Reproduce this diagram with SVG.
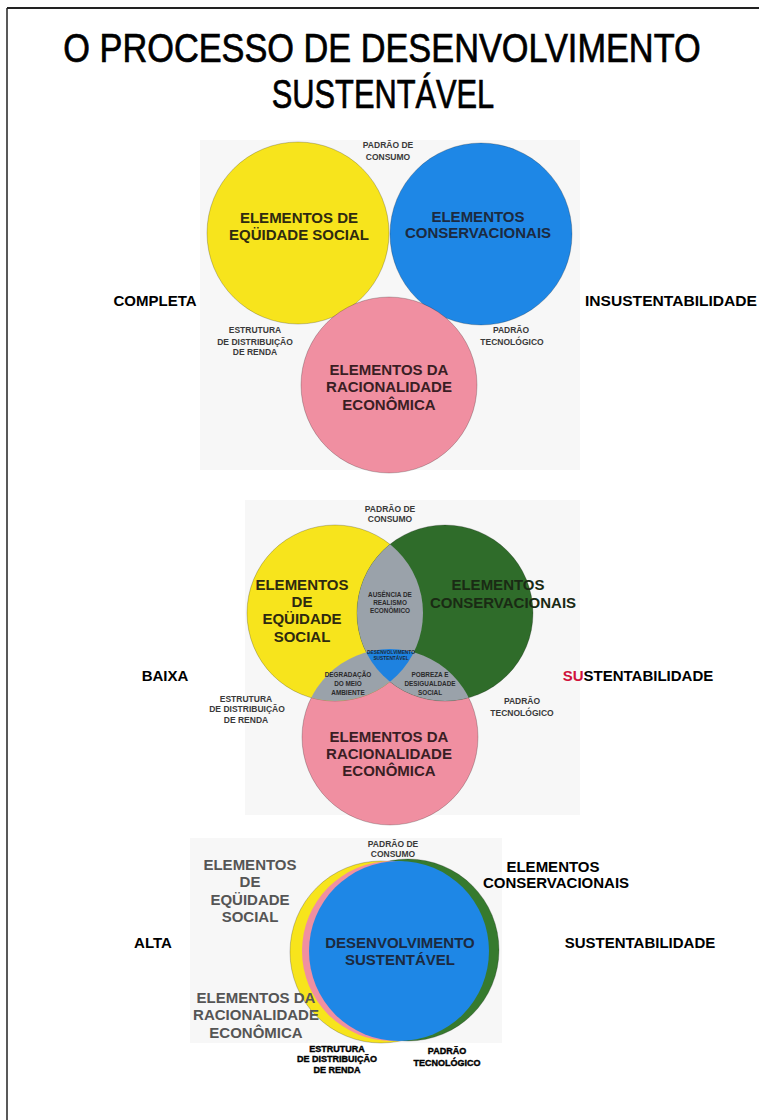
<svg xmlns="http://www.w3.org/2000/svg" width="759" height="1120" viewBox="0 0 759 1120">
  <style>
    .t { font-family: "Liberation Sans", Arial, sans-serif; font-weight: bold; text-anchor: middle; }
    .big { font-size: 15px; }
    .small { font-size: 8.5px; fill: #3a3a3a; }
    .heavy { font-size: 9px; fill: #000; stroke: #000; stroke-width: 0.4; }
    .tiny { font-size: 6.4px; fill: #2a2a2a; }
    .micro { font-size: 4.8px; fill: #1a2a3a; }
    .side { font-size: 15px; fill: #000; }
    .title { font-family: "Liberation Sans", Arial, sans-serif; font-size: 40px; fill: #000; stroke: #000; stroke-width: 0.7; text-anchor: middle; }
    .edge { stroke: rgba(0,0,0,0.28); stroke-width: 0.8; }
    .haze { fill: #f7f7f7; }
  </style>
  <defs>
    <clipPath id="cY2"><circle cx="335" cy="613" r="88"/></clipPath>
    <clipPath id="cG2"><circle cx="445" cy="613" r="88"/></clipPath>
  </defs>

  <rect width="759" height="1120" fill="#fff"/>
  <!-- page frame -->
  <line x1="7" y1="8" x2="759" y2="8" stroke="#222" stroke-width="2"/>
  <line x1="7" y1="8" x2="7" y2="1120" stroke="#222" stroke-width="1.5"/>

  <!-- title, horizontally condensed -->
  <g id="title">
    <text class="title" transform="translate(382,62) scale(0.858,1)" x="0" y="0">O PROCESSO DE DESENVOLVIMENTO</text>
    <text class="title" transform="translate(383,108) scale(0.77,1)" x="0" y="0">SUSTENTÁVEL</text>
  </g>

  <!-- soft backgrounds behind each diagram -->
  <rect class="haze" x="200" y="140" width="380" height="330"/>
  <rect class="haze" x="245" y="500" width="335" height="315"/>
  <rect class="haze" x="190" y="838" width="312" height="205"/>

  <!-- ===== Diagram 1: complete unsustainability ===== -->
  <g id="d1-yellow">
    <circle class="edge" cx="298" cy="233" r="91" fill="#f7e41c"/>
    <text class="t big" fill="#2e2a10" x="299" y="223">ELEMENTOS DE</text>
    <text class="t big" fill="#2e2a10" x="299" y="240">EQÜIDADE SOCIAL</text>
  </g>
  <g id="d1-blue">
    <circle class="edge" cx="481" cy="234" r="91" fill="#1e87e6"/>
    <text class="t big" fill="#1c2a40" x="478" y="222">ELEMENTOS</text>
    <text class="t big" fill="#1c2a40" x="478" y="238">CONSERVACIONAIS</text>
  </g>
  <g id="d1-pink">
    <circle class="edge" cx="389" cy="385" r="88" fill="#f08fa1"/>
    <text class="t big" fill="#3a1e24" x="389" y="375">ELEMENTOS DA</text>
    <text class="t big" fill="#3a1e24" x="389" y="392">RACIONALIDADE</text>
    <text class="t big" fill="#3a1e24" x="389" y="410">ECONÔMICA</text>
  </g>
  <g id="d1-labels">
    <text class="t small" x="388" y="148">PADRÃO DE</text>
    <text class="t small" x="388" y="160">CONSUMO</text>
    <text class="t small" x="255" y="333">ESTRUTURA</text>
    <text class="t small" x="255" y="345">DE DISTRIBUIÇÃO</text>
    <text class="t small" x="255" y="355">DE RENDA</text>
    <text class="t small" x="511" y="333">PADRÃO</text>
    <text class="t small" x="512" y="345">TECNOLÓGICO</text>
    <text class="t side" x="155" y="306">COMPLETA</text>
    <text class="t side" x="671" y="306" textLength="172" lengthAdjust="spacingAndGlyphs">INSUSTENTABILIDADE</text>
  </g>

  <!-- ===== Diagram 2: low sustainability ===== -->
  <g id="d2-circles">
    <circle class="edge" cx="390" cy="737" r="88" fill="#f08fa1"/>
    <circle class="edge" cx="335" cy="613" r="88" fill="#f7e41c"/>
    <circle class="edge" cx="445" cy="613" r="88" fill="#2f6c2a"/>
  </g>
  <g id="d2-overlaps">
    <circle cx="445" cy="613" r="88" fill="#9aa2aa" clip-path="url(#cY2)"/>
    <circle cx="390" cy="737" r="88" fill="#9aa2aa" clip-path="url(#cY2)"/>
    <circle cx="390" cy="737" r="88" fill="#9aa2aa" clip-path="url(#cG2)"/>
    <g clip-path="url(#cY2)">
      <circle cx="390" cy="737" r="88" fill="#1e82e0" clip-path="url(#cG2)"/>
    </g>
  </g>
  <g id="d2-yellow">
    <text class="t big" fill="#2e2a10" x="302" y="590">ELEMENTOS</text>
    <text class="t big" fill="#2e2a10" x="302" y="607">DE</text>
    <text class="t big" fill="#2e2a10" x="302" y="624">EQÜIDADE</text>
    <text class="t big" fill="#2e2a10" x="302" y="642">SOCIAL</text>
  </g>
  <g id="d2-green">
    <text class="t big" fill="#1a2a14" x="498" y="590">ELEMENTOS</text>
    <text class="t big" fill="#1a2a14" x="503" y="608">CONSERVACIONAIS</text>
  </g>
  <g id="d2-pink">
    <text class="t big" fill="#3a1e24" x="389" y="742">ELEMENTOS DA</text>
    <text class="t big" fill="#3a1e24" x="389" y="759">RACIONALIDADE</text>
    <text class="t big" fill="#3a1e24" x="389" y="776">ECONÔMICA</text>
  </g>
  <g id="d2-lens-labels">
    <text class="t tiny" x="390" y="597">AUSÊNCIA DE</text>
    <text class="t tiny" x="390" y="605">REALISMO</text>
    <text class="t tiny" x="390" y="613">ECONÔMICO</text>
    <text class="t micro" x="391" y="654">DESENVOLVIMENTO</text>
    <text class="t micro" x="391" y="660">SUSTENTÁVEL</text>
    <text class="t tiny" x="348" y="677">DEGRADAÇÃO</text>
    <text class="t tiny" x="348" y="686">DO MEIO</text>
    <text class="t tiny" x="348" y="695">AMBIENTE</text>
    <text class="t tiny" x="430" y="677">POBREZA E</text>
    <text class="t tiny" x="430" y="686">DESIGUALDADE</text>
    <text class="t tiny" x="430" y="695">SOCIAL</text>
  </g>
  <g id="d2-labels">
    <text class="t small" x="390" y="512">PADRÃO DE</text>
    <text class="t small" x="390" y="522">CONSUMO</text>
    <text class="t small" x="246" y="702" fill="#111">ESTRUTURA</text>
    <text class="t small" x="247" y="712" fill="#111">DE DISTRIBUIÇÃO</text>
    <text class="t small" x="246" y="723" fill="#111">DE RENDA</text>
    <text class="t small" x="522" y="704">PADRÃO</text>
    <text class="t small" x="522" y="716">TECNOLÓGICO</text>
    <text class="t side" x="165" y="681">BAIXA</text>
    <text class="t side" x="638" y="681"><tspan fill="#d0123c">SU</tspan>STENTABILIDADE</text>
  </g>

  <!-- ===== Diagram 3: high sustainability ===== -->
  <g id="d3-circles">
    <circle class="edge" cx="408" cy="950" r="91" fill="#367a2e"/>
    <circle class="edge" cx="381" cy="952" r="91" fill="#f7e41c"/>
    <circle cx="392" cy="951" r="90" fill="#f08fa1"/>
    <circle cx="399" cy="951" r="90" fill="#1e87e6"/>
  </g>
  <g id="d3-center">
    <text class="t big" fill="#1c2a40" x="400" y="948">DESENVOLVIMENTO</text>
    <text class="t big" fill="#1c2a40" x="400" y="965">SUSTENTÁVEL</text>
  </g>
  <g id="d3-yellow">
    <text class="t big" fill="#555" x="250" y="870">ELEMENTOS</text>
    <text class="t big" fill="#555" x="250" y="887">DE</text>
    <text class="t big" fill="#555" x="250" y="905">EQÜIDADE</text>
    <text class="t big" fill="#555" x="250" y="922">SOCIAL</text>
  </g>
  <g id="d3-pink">
    <text class="t big" fill="#555" x="256" y="1003">ELEMENTOS DA</text>
    <text class="t big" fill="#555" x="256" y="1020">RACIONALIDADE</text>
    <text class="t big" fill="#555" x="256" y="1038">ECONÔMICA</text>
  </g>
  <g id="d3-green">
    <text class="t big" fill="#000" x="553" y="872">ELEMENTOS</text>
    <text class="t big" fill="#000" x="556" y="888">CONSERVACIONAIS</text>
  </g>
  <g id="d3-labels">
    <text class="t small" x="393" y="847">PADRÃO DE</text>
    <text class="t small" x="393" y="857">CONSUMO</text>
    <text class="t heavy" x="337" y="1052">ESTRUTURA</text>
    <text class="t heavy" x="337" y="1062">DE DISTRIBUIÇÃO</text>
    <text class="t heavy" x="337" y="1073">DE RENDA</text>
    <text class="t heavy" x="447" y="1054">PADRÃO</text>
    <text class="t heavy" x="447" y="1066">TECNOLÓGICO</text>
    <text class="t side" x="153" y="948">ALTA</text>
    <text class="t side" x="640" y="948">SUSTENTABILIDADE</text>
  </g>
</svg>
